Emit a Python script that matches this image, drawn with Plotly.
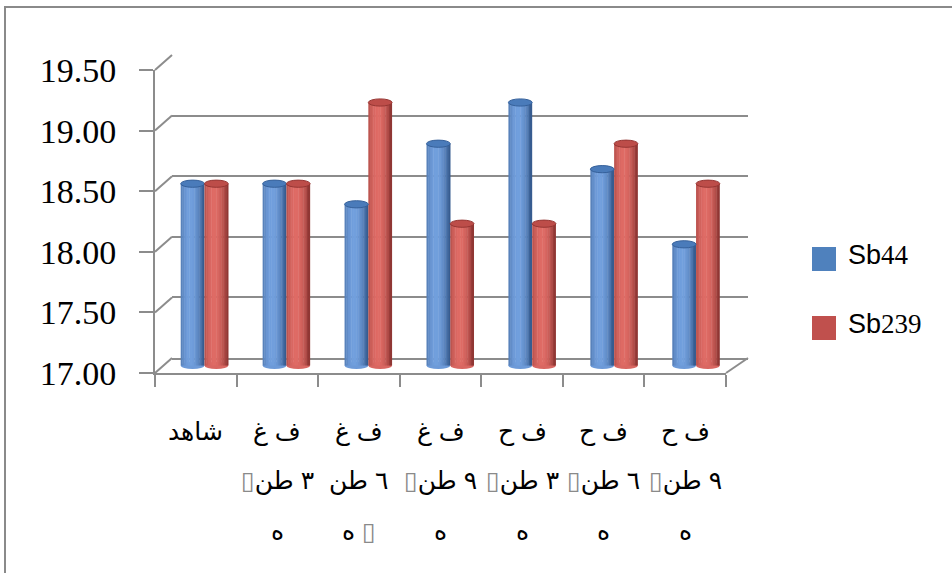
import math
import plotly.graph_objects as go

# ---- data -------------------------------------------------------------
label_line1 = ["شاهد", "ف غ", "ف غ", "ف غ", "ف ح", "ف ح", "ف ح"]
label_line2 = ["", "\u25af٣ طن", "٦ طن", "\u25af٩ طن", "\u25af٣ طن", "\u25af٦ طن", "\u25af٩ طن"]
label_line3 = ["", "ه", "ه \u25af", "ه", "ه", "ه", "ه"]

sb44 = [18.50, 18.50, 18.33, 18.83, 19.17, 18.62, 18.00]
sb239 = [18.50, 18.50, 19.17, 18.17, 18.17, 18.83, 18.50]

series_names = ["Sb44", "Sb239"]
y_ticks = [17.00, 17.50, 18.00, 18.50, 19.00, 19.50]

# ---- geometry (pixels) ------------------------------------------------
W, H = 952, 573
Y_LO, Y_HI = 17.0, 19.5
K = 121.2                      # pixels per unit on the value axis
FRONT_X = (155, 726)
FRONT_Y0 = 373                 # pixel row of 17.00 on the front plane
WALL_X = (172, 748)
WALL_Y0 = 358                  # pixel row of 17.00 on the back wall
BAR_X = (163.5, 737)
BAR_Y0 = 365.5                 # bars sit half way into the depth
GRID = "#8c8c8c"

n = len(label_line1)


def xdom(px):
    return [px[0] / W, px[1] / W]


def ydom(y17, lo, hi):
    top = y17 - (hi - 17.0) * K
    bot = y17 + (17.0 - lo) * K
    return [1 - bot / H, 1 - top / H]


def py(ypix):
    return 1 - ypix / H


fig = go.Figure()

# empty trace so the back-wall subplot is laid out
fig.add_trace(go.Scatter(x=[None], y=[None], xaxis="x", yaxis="y", showlegend=False,
                         hoverinfo="skip", mode="markers"))

# ---- cylinder bars ----------------------------------------------------
BW = 0.29
N_STRIPS = 14
palettes = {
    "Sb44": {"dark": (32, 64, 112), "light": (114, 160, 222), "cap": "#4a7bba", "rim": "#35609a"},
    "Sb239": {"dark": (112, 34, 32), "light": (224, 108, 102), "cap": "#bd4d49", "rim": "#963633"},
}


def shade(p, t):
    s = math.cos(math.pi * (t - 0.4) / 1.35)
    s = max(0.0, s) ** 0.9
    c = [int(p["dark"][k] + (p["light"][k] - p["dark"][k]) * s) for k in range(3)]
    return "rgb(%d,%d,%d)" % tuple(c)


shapes = []
for si, (name, vals) in enumerate(zip(series_names, [sb44, sb239])):
    pal = palettes[name]
    start = -BW if si == 0 else 0.0
    sw = BW / N_STRIPS
    for k in range(N_STRIPS):
        t = (k + 0.5) / N_STRIPS
        fig.add_trace(go.Bar(
            x=list(range(n)),
            y=[v - Y_LO for v in vals],
            base=Y_LO,
            offset=start + k * sw,
            width=sw * (1.25 if k < N_STRIPS - 1 else 1.0),
            marker=dict(color=shade(pal, t), line=dict(width=0)),
            xaxis="x3", yaxis="y3",
            showlegend=False,
            name=name,
            hoverinfo="skip",
        ))
    e = 3.6 / K
    for i, v in enumerate(vals):
        # bottom rim
        shapes.append(dict(type="circle", xref="x3", yref="y3",
                           x0=i + start, x1=i + start + BW, y0=Y_LO - e, y1=Y_LO + e,
                           fillcolor=shade(pal, 0.55), line=dict(width=0), layer="below"))
        # top cap
        shapes.append(dict(type="circle", xref="x3", yref="y3",
                           x0=i + start, x1=i + start + BW, y0=v - e, y1=v + e,
                           fillcolor=pal["cap"], line=dict(color=pal["rim"], width=1),
                           layer="above"))

# ---- axes ----------------------------------------------------------------
cat_range = [-0.5, n - 0.5]
layout_axes = dict(
    # back wall with gridlines
    xaxis=dict(domain=xdom(WALL_X), range=cat_range, showgrid=False, zeroline=False,
               showticklabels=False, showline=True, linecolor=GRID, linewidth=2,
               anchor="y", fixedrange=True, automargin=False),
    yaxis=dict(domain=ydom(WALL_Y0, Y_LO, Y_HI), range=[Y_LO, Y_HI], tickvals=y_ticks,
               showgrid=True, gridcolor=GRID, gridwidth=2, zeroline=False,
               showticklabels=False, showline=False, anchor="x", fixedrange=True,
               automargin=False),
    # front axes with ticks and labels
    xaxis2=dict(domain=xdom(FRONT_X), range=cat_range,
                tickvals=[i - 0.5 for i in range(n + 1)], ticks="outside", ticklen=12,
                tickwidth=2, tickcolor=GRID, showticklabels=False, showgrid=False,
                zeroline=False, showline=True, linecolor=GRID, linewidth=2,
                anchor="y2", fixedrange=True, automargin=False),
    yaxis2=dict(domain=ydom(FRONT_Y0, Y_LO, Y_HI), range=[Y_LO, Y_HI], tickvals=y_ticks,
                tickformat=".2f", ticks="outside", ticklen=14, tickwidth=2, tickcolor=GRID,
                showgrid=False, zeroline=False, showline=True, linecolor=GRID, linewidth=2,
                tickfont=dict(family="Liberation Serif, Times New Roman, serif", size=34,
                              color="black"),
                ticklabelstandoff=16, anchor="x2", fixedrange=True, automargin=False),
    # mid-depth layer holding the bars
    xaxis3=dict(domain=xdom(BAR_X), range=cat_range, visible=False, anchor="y3",
                fixedrange=True, automargin=False),
    yaxis3=dict(domain=ydom(BAR_Y0, 16.9, Y_HI), range=[16.9, Y_HI], visible=False,
                anchor="x3", fixedrange=True, automargin=False),
)

# ---- connectors between front ticks and wall gridlines, floor edge -------
for t in y_ticks:
    yf = FRONT_Y0 - (t - Y_LO) * K
    yw = WALL_Y0 - (t - Y_LO) * K
    shapes.append(dict(type="line", xref="paper", yref="paper",
                       x0=FRONT_X[0] / W, y0=py(yf), x1=WALL_X[0] / W, y1=py(yw),
                       line=dict(color=GRID, width=2)))
shapes.append(dict(type="line", xref="paper", yref="paper",
                   x0=FRONT_X[1] / W, y0=py(FRONT_Y0), x1=WALL_X[1] / W, y1=py(WALL_Y0),
                   line=dict(color=GRID, width=2)))
# chart frame
shapes.append(dict(type="rect", xref="paper", yref="paper",
                   x0=5 / W, y0=-0.05, x1=1.05, y1=py(7),
                   line=dict(color="#8a8a8a", width=2), fillcolor="rgba(0,0,0,0)"))

# ---- legend ----------------------------------------------------------
legend_colors = ["#4f81bd", "#c0504d"]
legend_rows = [259, 328]
annotations = []
for name, col, yc in zip(series_names, legend_colors, legend_rows):
    shapes.append(dict(type="rect", xref="paper", yref="paper",
                       x0=812 / W, x1=836 / W, y0=py(yc + 12), y1=py(yc - 12),
                       fillcolor=col, line=dict(width=0)))
    prefix, digits = name[:2], name[2:]
    annotations.append(dict(
        xref="paper", yref="paper", x=846 / W, y=py(yc - 4), xanchor="left", yanchor="middle",
        text=prefix + '<span style="font-family:Liberation Serif">' + digits + "</span>",
        showarrow=False,
        font=dict(family="Liberation Sans, Arial, sans-serif", size=27, color="black"),
    ))

# ---- category labels (three text rows) -------------------------------
row_y = [431, 480, 531]
for rows, yc in zip([label_line1, label_line2, label_line3], row_y):
    for i, txt in enumerate(rows):
        if not txt:
            continue
        txt = txt.replace("\u25af", '<span style="color:#8a8a8a">\u25af</span>')
        annotations.append(dict(
            xref="x2", yref="paper", x=i, y=py(yc), xanchor="center", yanchor="middle",
            text=txt, showarrow=False,
            font=dict(family="Liberation Sans, Arial, DejaVu Sans, sans-serif", size=25,
                      color="black"),
        ))

fig.update_layout(
    width=W, height=H,
    margin=dict(l=0, r=0, t=0, b=0),
    paper_bgcolor="white", plot_bgcolor="rgba(0,0,0,0)",
    barmode="overlay", showlegend=False,
    shapes=shapes, annotations=annotations,
    **layout_axes,
)

fig.write_html("out.html")
